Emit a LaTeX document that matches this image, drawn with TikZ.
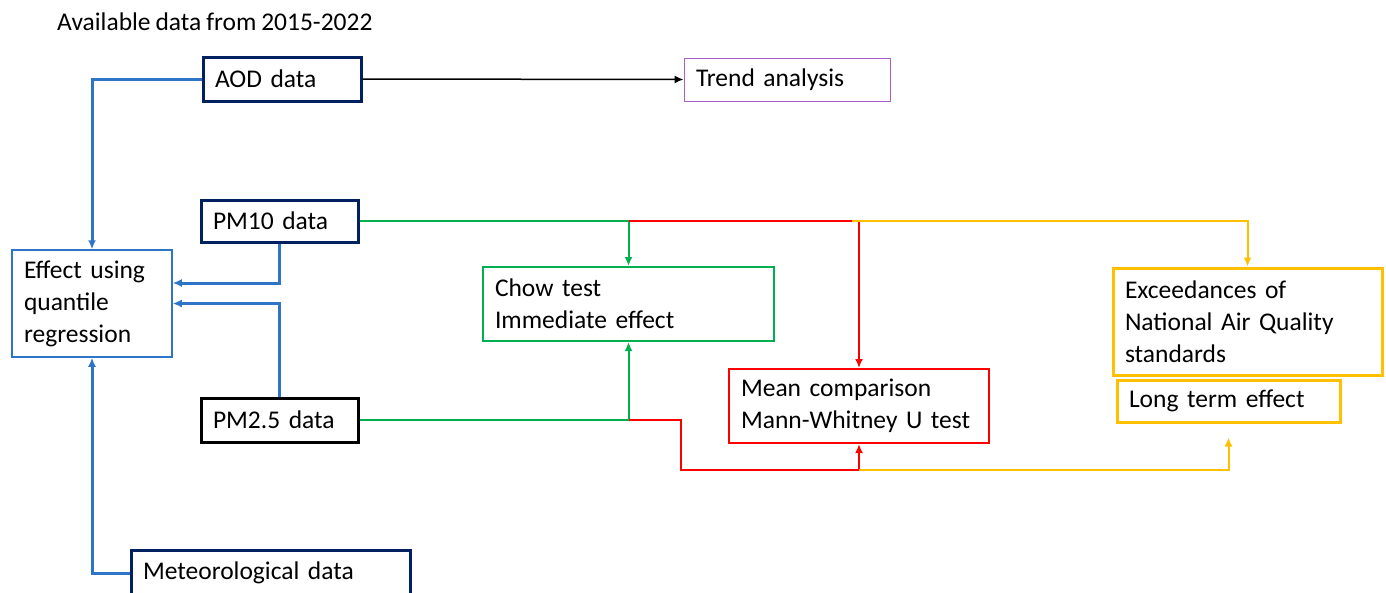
\documentclass[tikz,border=0pt]{standalone}
\usepackage{fontspec}
\setmainfont[WordSpace=0.85]{Carlito}
\usetikzlibrary{arrows.meta,calc}
\definecolor{navy}{HTML}{002060}
\definecolor{bluec}{RGB}{46,117,200}
\definecolor{greenc}{HTML}{00B050}
\definecolor{redc}{HTML}{FF0000}
\definecolor{yellowc}{HTML}{FFC000}
\definecolor{purplec}{HTML}{A65FCB}
\begin{document}
\begin{tikzpicture}[x=1pt,y=-1pt,
  font=\fontsize{25.5}{32}\selectfont,
  box/.style={draw,rectangle,inner xsep=12pt,inner ysep=2pt,align=left},
  databox/.style={box,draw=navy,line width=3pt},
  tip/.style={-{Latex[length=9pt,width=8pt]}},
  bl/.style={draw=bluec,line width=3pt},
  gr/.style={draw=greenc,line width=2pt},
  rd/.style={draw=redc,line width=2pt},
  yl/.style={draw=yellowc,line width=2pt}]
\useasboundingbox (0,0) rectangle (1386,592);
\node[anchor=base west,inner sep=0pt,font=\fontsize{25.5}{30}\selectfont] (title) at (57,30) {Available data from 2015-2022};
\node[databox,minimum width=158pt,minimum height=44pt,text width=134pt] (aod) at (282,79) {AOD data};
\node[box,draw=purplec,line width=1pt,minimum width=206pt,minimum height=43pt,text width=182pt] (trend) at (787,79.5) {Trend analysis};
\node[databox,minimum width=157pt,minimum height=42pt,text width=133pt] (pm10) at (279.5,221) {PM10 data};
\node[box,draw=bluec,line width=1.5pt,minimum width=160pt,minimum height=107pt,text width=136pt] (effect) at (92,303.5) {Effect using\\quantile\\regression};
\node[box,draw=greenc,line width=2pt,minimum width=291pt,minimum height=74pt,text width=267pt] (chow) at (628.5,304) {Chow test\\Immediate effect};
\node[databox,draw=black,minimum width=157pt,minimum height=44pt,text width=133pt] (pm25) at (279.5,420) {PM2.5 data};
\node[box,draw=redc,line width=2pt,minimum width=260pt,minimum height=74pt,text width=236pt] (mean) at (859,406) {Mean comparison\\Mann-Whitney U test};
\node[box,draw=yellowc,line width=3pt,minimum width=269pt,minimum height=107pt,text width=245pt] (exc) at (1247.5,321.5) {Exceedances of\\National Air Quality\\standards};
\node[box,draw=yellowc,line width=3pt,minimum width=223pt,minimum height=42pt,text width=199pt] (lt) at (1228.5,401) {Long term effect};
\node[databox,minimum width=279pt,minimum height=46pt,text width=255pt] (met) at (270.5,573) {Meteorological data};
% AOD to trend
\draw[tip,line width=1.5pt,black] (aod.east) -- (trend.west);
% blue connectors
\draw[bl,tip] (aod.west) -| (effect.north);
\draw[bl,tip] (pm10.south) |- ($(effect.east)+(0,-20.5)$);
\draw[bl,tip] (pm25.north) |- (effect.east);
\draw[bl,tip] (met.west) -| (effect.south);
% top branch
\coordinate (j1) at (pm10.east -| chow.north);
\coordinate (j2) at (pm10.east -| mean.north);
\coordinate (j2b) at ($(j2)+(-7,0)$);
\draw[gr] (pm10.east) -- (j1);
\draw[gr,tip] (j1) -- (chow.north);
\draw[rd] (j1) -- (j2b);
\draw[rd,tip] (j2) -- (mean.north);
\draw[yl,tip] (j2b) -| (exc.north);
% bottom branch
\coordinate (k1) at (pm25.east -| chow.south);
\coordinate (k2) at ($(mean.south)+(0,26)$);
\coordinate (k3) at ($(lt.south)+(0,14)$);
\draw[gr] (pm25.east) -- (k1);
\draw[gr,tip] (k1) -- (chow.south);
\draw[rd,tip] (k1) -- ++(52,0) |- (k2) -- (mean.south);
\draw[yl,tip] (k2) -| (k3);
\end{tikzpicture}
\end{document}
